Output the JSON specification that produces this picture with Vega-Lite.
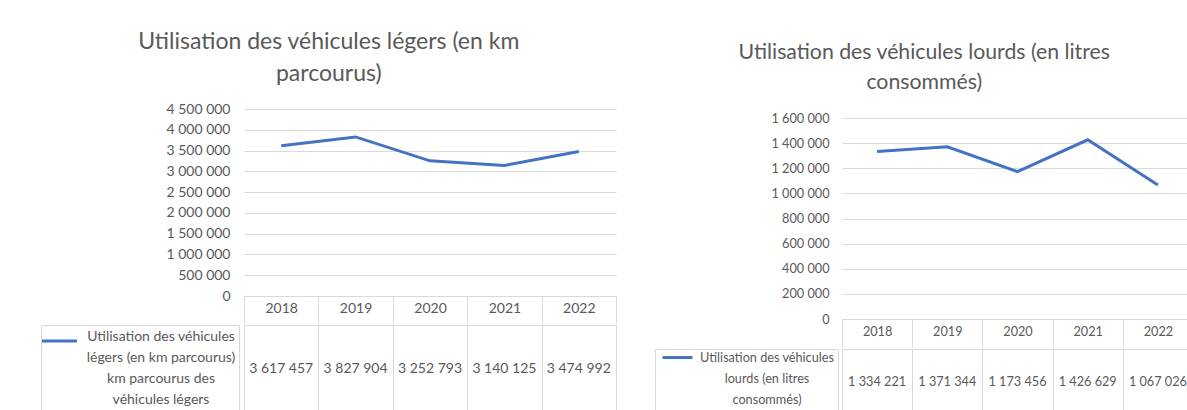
{
  "$schema": "https://vega.github.io/schema/vega-lite/v6.json",
  "background": "white",
  "padding": {"left": 40, "top": 31, "right": 0, "bottom": 0},
  "config": {
    "locale": {"number": {"decimal": ",", "thousands": " ", "grouping": [3], "currency": ["", " €"]}},
    "view": {"stroke": null},
    "font": "Lato",
    "axis": {"labelFont": "Lato", "labelFontSize": 14, "labelColor": "#595959", "gridColor": "#d9d9d9", "domainColor": "#d9d9d9", "tickColor": "#d9d9d9", "title": null},
    "title": {"font": "Lato", "fontSize": 23, "fontWeight": "normal", "color": "#595959", "lineHeight": 32, "anchor": "middle", "frame": "bounds", "offset": 16},
    "legend": {"labelFont": "Lato"},
    "style": {"guide-label": {"lineHeight": 21}}
  },
  "datasets": {
    "legers": [
      {"annee": "2018", "valeur": 3617457, "serie": "Utilisation des véhicules légers (en km parcourus) km parcourus des véhicules légers"},
      {"annee": "2019", "valeur": 3827904, "serie": "Utilisation des véhicules légers (en km parcourus) km parcourus des véhicules légers"},
      {"annee": "2020", "valeur": 3252793, "serie": "Utilisation des véhicules légers (en km parcourus) km parcourus des véhicules légers"},
      {"annee": "2021", "valeur": 3140125, "serie": "Utilisation des véhicules légers (en km parcourus) km parcourus des véhicules légers"},
      {"annee": "2022", "valeur": 3474992, "serie": "Utilisation des véhicules légers (en km parcourus) km parcourus des véhicules légers"}
    ],
    "lourds": [
      {"annee": "2018", "valeur": 1334221, "serie": "Utilisation des véhicules lourds (en litres consommés)"},
      {"annee": "2019", "valeur": 1371344, "serie": "Utilisation des véhicules lourds (en litres consommés)"},
      {"annee": "2020", "valeur": 1173456, "serie": "Utilisation des véhicules lourds (en litres consommés)"},
      {"annee": "2021", "valeur": 1426629, "serie": "Utilisation des véhicules lourds (en litres consommés)"},
      {"annee": "2022", "valeur": 1067026, "serie": "Utilisation des véhicules lourds (en litres consommés)"}
    ]
  },
  "resolve": {"scale": {"color": "independent"}, "legend": {"color": "independent"}},
  "spacing": 37,
  "hconcat": [
    {
      "spacing": 0,
      "resolve": {"scale": {"color": "independent"}, "legend": {"color": "independent"}},
      "vconcat": [
        {
          "title": {"text": ["Utilisation des véhicules légers (en km", "parcourus)"]},
          "width": 372, "height": 187,
          "data": {"name": "legers"},
          "mark": {"type": "line", "color": "#4472C4", "strokeWidth": 3},
          "encoding": {
            "x": {"field": "annee", "type": "nominal", "sort": null,
              "scale": {"type": "band", "paddingInner": 0, "paddingOuter": 0},
              "axis": {"labelAngle": 0, "tickBand": "extent", "ticks": true, "tickSize": 27, "labelPadding": -15, "labelBaseline": "middle", "domain": true, "grid": false}},
            "y": {"field": "valeur", "type": "quantitative",
              "scale": {"domain": [0, 4500000], "nice": false},
              "axis": {"values": [0, 500000, 1000000, 1500000, 2000000, 2500000, 3000000, 3500000, 4000000, 4500000], "format": ",d", "ticks": false, "domain": false, "labelPadding": 14, "minExtent": 203, "maxExtent": 203, "grid": true}}
          }
        },
        {
          "width": 372, "height": 88,
          "data": {"name": "legers"},
          "encoding": {
            "x": {"field": "annee", "type": "nominal", "sort": null,
              "scale": {"type": "band", "paddingInner": 0, "paddingOuter": 0},
              "axis": {"orient": "top", "labels": false, "ticks": false, "domain": true, "grid": true, "tickBand": "extent"}}
          },
          "layer": [
            {"mark": {"type": "text", "fontSize": 14, "color": "#595959", "font": "Lato"},
             "encoding": {"text": {"field": "valeur", "type": "quantitative", "format": ",d"}}},
            {"mark": {"type": "point", "opacity": 0},
             "encoding": {"color": {"field": "serie", "type": "nominal", "scale": {"range": ["#4472C4"]},
               "legend": {"orient": "none", "legendX": -203, "legendY": 0, "title": null, "padding": 3, "strokeColor": "#d9d9d9",
                 "symbolType": "M-1.2,-0.34H0.8", "symbolSize": 1225, "symbolStrokeWidth": 3, "symbolStrokeColor": "#4472C4", "symbolFillColor": "transparent", "symbolOpacity": 1,
                 "labelExpr": "['Utilisation des véhicules', 'légers (en km parcourus)', 'km parcourus des', 'véhicules légers']",
                 "labelAlign": "center", "labelBaseline": "line-bottom", "labelOffset": 79, "labelFontSize": 14, "labelColor": "#595959", "labelLimit": 300}}}}
          ]
        }
      ]
    },
    {
      "spacing": 0,
      "resolve": {"scale": {"color": "independent"}, "legend": {"color": "independent"}},
      "vconcat": [
        {
          "title": {"text": ["Utilisation des véhicules lourds (en litres", "consommés)"], "fontSize": 21.25, "lineHeight": 30},
          "width": 351, "height": 210,
          "data": {"name": "lourds"},
          "mark": {"type": "line", "color": "#4472C4", "strokeWidth": 3},
          "encoding": {
            "x": {"field": "annee", "type": "nominal", "sort": null,
              "scale": {"type": "band", "paddingInner": 0, "paddingOuter": 0},
              "axis": {"labelAngle": 0, "tickBand": "extent", "ticks": true, "tickSize": 28, "labelPadding": -16, "labelBaseline": "middle", "labelFontSize": 12.7, "domain": true, "grid": false}},
            "y": {"field": "valeur", "type": "quantitative",
              "scale": {"domain": [0, 1671642], "nice": false},
              "axis": {"values": [0, 200000, 400000, 600000, 800000, 1000000, 1200000, 1400000, 1600000], "format": ",d", "ticks": false, "domain": false, "labelPadding": 13, "labelFontSize": 12.7, "minExtent": 187, "maxExtent": 187, "grid": true}}
          }
        },
        {
          "width": 351, "height": 66,
          "data": {"name": "lourds"},
          "encoding": {
            "x": {"field": "annee", "type": "nominal", "sort": null,
              "scale": {"type": "band", "paddingInner": 0, "paddingOuter": 0},
              "axis": {"orient": "top", "labels": false, "ticks": false, "domain": true, "grid": true, "tickBand": "extent"}}
          },
          "layer": [
            {"mark": {"type": "text", "fontSize": 12.7, "color": "#595959", "font": "Lato"},
             "encoding": {"text": {"field": "valeur", "type": "quantitative", "format": ",d"}}},
            {"mark": {"type": "point", "opacity": 0},
             "encoding": {"color": {"field": "serie", "type": "nominal", "scale": {"range": ["#4472C4"]},
               "legend": {"orient": "none", "legendX": -187, "legendY": 0, "title": null, "padding": 3, "strokeColor": "#d9d9d9",
                 "symbolType": "M-0.8,-0.73H1.2", "symbolSize": 900, "symbolStrokeWidth": 3, "symbolStrokeColor": "#4472C4", "symbolFillColor": "transparent", "symbolOpacity": 1,
                 "labelExpr": "['Utilisation des véhicules', 'lourds (en litres', 'consommés)']",
                 "labelAlign": "center", "labelBaseline": "line-bottom", "labelOffset": 76, "labelFontSize": 12.7, "labelColor": "#595959", "labelLimit": 300}}}}
          ]
        }
      ]
    }
  ]
}
